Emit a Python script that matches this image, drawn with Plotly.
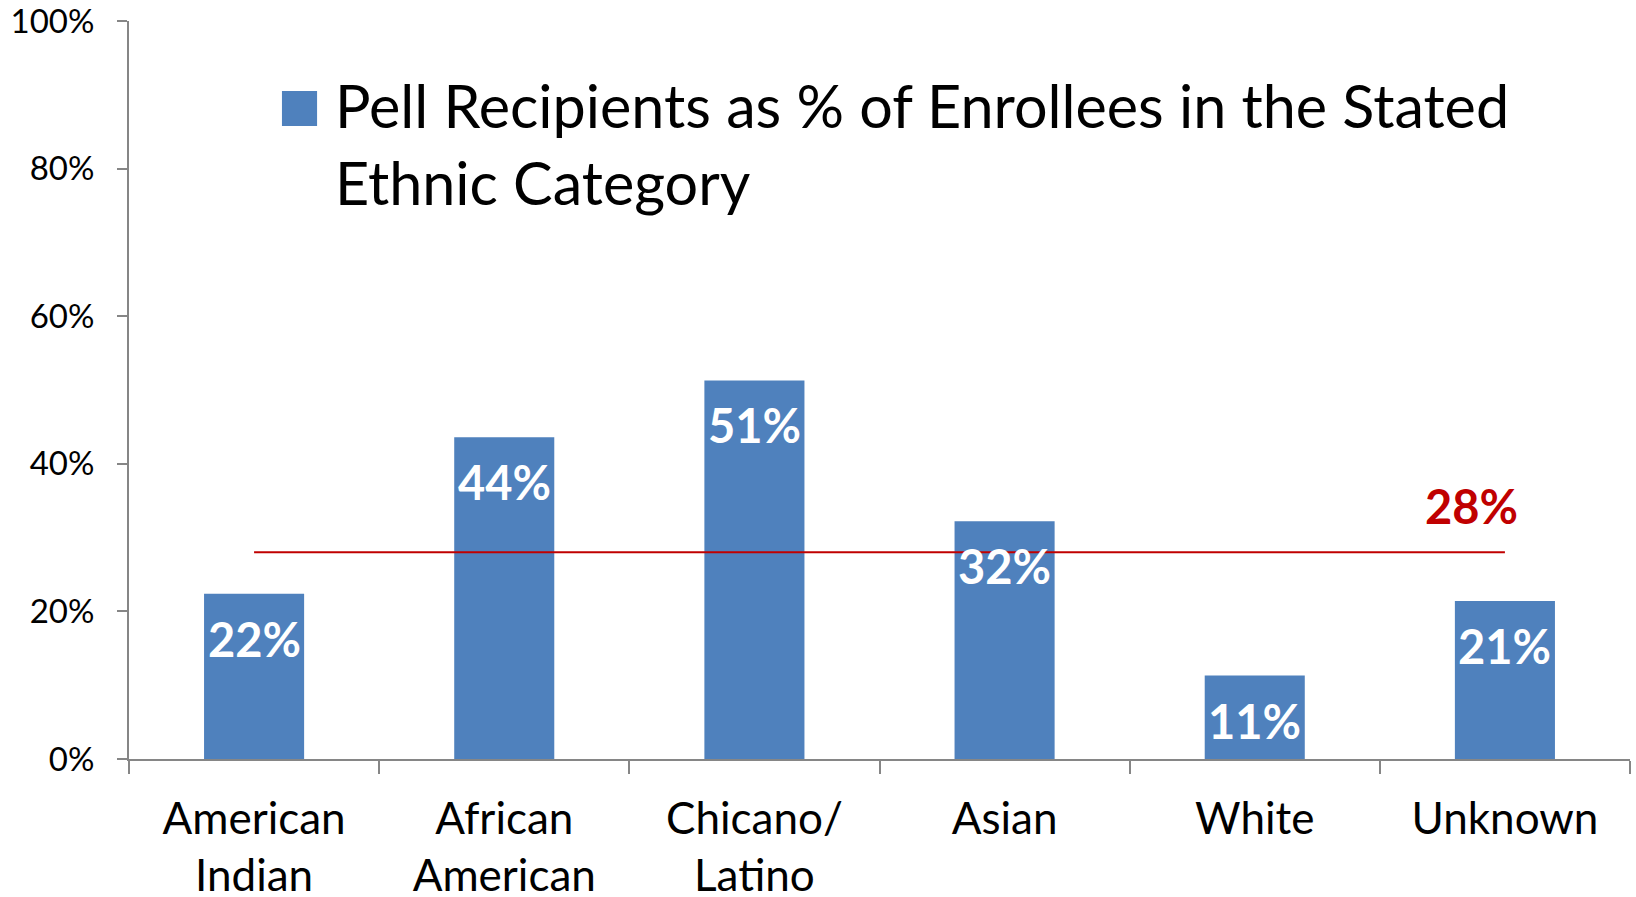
import plotly.graph_objects as go

categories = ["American<br>Indian", "African<br>American", "Chicano/<br>Latino", "Asian", "White", "Unknown"]
pell_pct = [22.4, 43.6, 51.3, 32.2, 11.3, 21.4]
bar_labels = ["22%", "44%", "51%", "32%", "11%", "21%"]
overall_pct = 28.0
overall_label = "28%"
series_name = "Pell Recipients as % of Enrollees in the Stated<br>Ethnic Category"
y_ticks = [0, 20, 40, 60, 80, 100]
y_ticklabels = ["0%", "20%", "40%", "60%", "80%", "100%"]

FONT = "Lato"
BLUE = "#4F81BD"
RED = "#C00000"
AXIS = "#868686"

fig = go.Figure()
fig.add_trace(go.Bar(
    x=categories, y=pell_pct, name=series_name,
    marker=dict(color=BLUE, line=dict(width=0)),
    showlegend=False, hoverinfo="skip",
))
fig.add_trace(go.Scatter(
    x=categories, y=[overall_pct] * len(categories), mode="lines",
    line=dict(color=RED, width=2), showlegend=False, hoverinfo="skip",
))

# data labels inside the top of each bar
for cat, val, lab in zip(categories, pell_pct, bar_labels):
    fig.add_annotation(
        x=cat, y=val, xref="x", yref="y", text="<b>" + lab + "</b>",
        showarrow=False, yanchor="top", yshift=-15,
        font=dict(family=FONT, size=47, color="white"),
    )

fig.add_annotation(
    x=categories[-1], y=overall_pct, xref="x", yref="y",
    text="<b>" + overall_label + "</b>", showarrow=False,
    xshift=-33, yshift=46, yanchor="middle",
    font=dict(family=FONT, size=47, color=RED),
)

# legend swatch + text
fig.add_shape(type="rect", xref="paper", yref="paper",
              x0=0.1019, x1=0.1253, y0=0.8577, y1=0.905,
              fillcolor=BLUE, line=dict(width=0))
fig.add_annotation(
    xref="paper", yref="paper", x=0.1359, y=0.938,
    xanchor="left", yanchor="top", align="left",
    text=series_name, showarrow=False,
    font=dict(family=FONT, size=59.3, color="black"),
)

fig.update_layout(
    width=1636, height=897,
    margin=dict(l=129, r=6, t=21, b=138, autoexpand=False),
    paper_bgcolor="white", plot_bgcolor="white",
    bargap=0.6,
    font=dict(family=FONT, color="black"),
)
fig.update_yaxes(
    range=[0, 100], tickvals=y_ticks, ticktext=y_ticklabels,
    showgrid=False, zeroline=False, automargin=False,
    showline=True, linecolor=AXIS, linewidth=2,
    ticks="outside", ticklen=10, tickcolor=AXIS, tickwidth=2,
    ticklabelstandoff=16, ticklabeloverflow="allow",
    tickfont=dict(family=FONT, size=33, color="black"),
)
fig.update_xaxes(
    showgrid=False, zeroline=False, automargin=False,
    showline=True, linecolor=AXIS, linewidth=2,
    ticks="outside", ticklen=13, tickcolor=AXIS, tickwidth=2,
    tickson="boundaries", ticklabelstandoff=20, ticklabeloverflow="allow",
    tickfont=dict(family=FONT, size=44, color="black"),
)

fig.write_html(
    "out.html",
    config={"displayModeBar": False},
    post_script="document.body.style.margin='0';document.body.style.overflow='hidden';",
)
